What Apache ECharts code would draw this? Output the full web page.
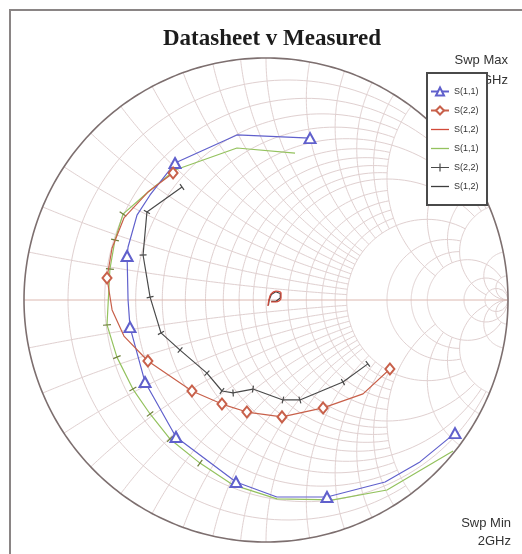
<!DOCTYPE html>
<html>
<head>
<meta charset="utf-8">
<script src="https://cdn.jsdelivr.net/npm/echarts@6.0.0/dist/echarts.min.js"></script>
<style>
  html, body { margin: 0; padding: 0; background: #fff; }
  #main { width: 522px; height: 554px; }
</style>
</head>
<body>
<div id="main"></div>
<script>
// reflection coefficients [re, im], sweep 2GHz .. max
const s11Datasheet = [
  [0.182, 0.669], [-0.120, 0.682], [-0.376, 0.566], [-0.479, 0.434], [-0.533, 0.351],
  [-0.570, 0.219], [-0.574, 0.182], [-0.570, 0.000], [-0.562, -0.112], [-0.500, -0.339],
  [-0.372, -0.566], [-0.124, -0.752], [0.045, -0.814], [0.252, -0.814], [0.492, -0.752],
  [0.636, -0.669], [0.781, -0.550]
];
const s11DsMarks = [0, 2, 6, 8, 9, 10, 11, 13, 16];

const s22Datasheet = [
  [-0.384, 0.525], [-0.488, 0.446], [-0.587, 0.339], [-0.636, 0.215], [-0.657, 0.091],
  [-0.636, -0.041], [-0.587, -0.149], [-0.488, -0.252], [-0.306, -0.376], [-0.182, -0.430],
  [-0.079, -0.463], [0.066, -0.483], [0.236, -0.446], [0.401, -0.388], [0.512, -0.285]
];
const s22DsMarks = [0, 4, 7, 8, 9, 10, 11, 12, 14];

const s12Datasheet = [
  [0.008, -0.025], [0.012, 0.000], [0.021, 0.025], [0.041, 0.037], [0.062, 0.029],
  [0.062, 0.008], [0.041, -0.008], [0.021, -0.008]
];

const s11Measured = [
  [0.120, 0.607], [-0.120, 0.628], [-0.376, 0.537], [-0.492, 0.442], [-0.591, 0.355],
  [-0.624, 0.248], [-0.645, 0.128], [-0.657, -0.103], [-0.616, -0.236], [-0.550, -0.368],
  [-0.479, -0.471], [-0.397, -0.574], [-0.273, -0.674], [-0.136, -0.764], [0.045, -0.822],
  [0.277, -0.826], [0.500, -0.785], [0.773, -0.624]
];
const s11MeasTicks = [4, 5, 6, 7, 8, 9, 10, 11, 12];

const s22Measured = [
  [-0.347, 0.467], [-0.492, 0.364], [-0.508, 0.186], [-0.479, 0.012], [-0.434, -0.136],
  [-0.355, -0.207], [-0.244, -0.302], [-0.182, -0.376], [-0.136, -0.384], [-0.054, -0.368],
  [0.070, -0.413], [0.140, -0.413], [0.318, -0.339], [0.421, -0.264]
];

const s12Measured = [
  [0.010, -0.022], [0.013, 0.000], [0.022, 0.023], [0.040, 0.034], [0.059, 0.027],
  [0.059, 0.008], [0.040, -0.006], [0.022, -0.006]
];

const seriesNames = ['S(1,1)', 'S(2,2)', 'S(1,2)', 'S(1,1) ', 'S(2,2) ', 'S(1,2) '];

// smith chart grid: [value, limit of the other coordinate]
const rCircles = [
  [0.1, 2], [0.2, 5], [0.3, 2], [0.4, 2], [0.5, 5], [0.6, 2], [0.7, 2], [0.8, 2], [0.9, 2],
  [1, 5], [1.2, 2], [1.4, 2], [1.6, 2], [1.8, 2], [2, 5], [3, 5], [4, 5], [5, 20],
  [10, Infinity], [20, Infinity]
];
const xArcs = [
  [0.1, 2], [0.2, 2], [0.3, 2], [0.4, 2], [0.5, 2], [0.6, 2], [0.7, 2], [0.8, 2], [0.9, 2],
  [1, 2], [1.2, 2], [1.4, 2], [1.6, 2], [1.8, 2], [2, 5], [3, 5], [4, 5], [5, 20],
  [10, Infinity], [20, Infinity]
];

function gamma(r, x) {
  const den = (r + 1) * (r + 1) + x * x;
  return [((r - 1) * (r + 1) + x * x) / den, (2 * x) / den];
}
function rCircle(r, xmax) {
  const pts = [], n = 160;
  const vmax = xmax === Infinity ? 0.999 : xmax / (1 + xmax);
  for (let i = 0; i <= n; i++) {
    const v = -vmax + (2 * vmax * i) / n;
    pts.push(gamma(r, v / (1 - Math.abs(v))));
  }
  return pts;
}
function xArc(x, rmax) {
  const pts = [], n = 120;
  const umax = rmax === Infinity ? 0.999 : rmax / (1 + rmax);
  for (let i = 0; i <= n; i++) {
    const u = (umax * i) / n;
    pts.push(gamma(u / (1 - u), x));
  }
  return pts;
}

const gridLines = [];
rCircles.forEach(([r, lim]) => gridLines.push(rCircle(r, lim)));
xArcs.forEach(([x, lim]) => { gridLines.push(xArc(x, lim)); gridLines.push(xArc(-x, lim)); });
const outer = [];
for (let i = 0; i <= 360; i++) outer.push([Math.cos(i * Math.PI / 180), Math.sin(i * Math.PI / 180)]);

function withMarks(data, marks) {
  return data.map((p, i) => marks.includes(i) ? { value: p } : { value: p, symbol: 'none' });
}
function tickAngle(data, i) {
  const a = data[Math.max(0, i - 1)], b = data[Math.min(data.length - 1, i + 1)];
  return Math.atan2(b[1] - a[1], b[0] - a[0]) * 180 / Math.PI;
}
function withTicks(data, marks) {
  return data.map((p, i) => (!marks || marks.includes(i))
    ? { value: p, symbolRotate: tickAngle(data, i) }
    : { value: p, symbol: 'none' });
}

const lineIcon = 'path://M0,0H18V1.3H0Z';
const tickIcon = 'path://M0,4.4H8.4V1H9.6V4.4H18V5.6H9.6V9H8.4V5.6H0Z';

const chart = echarts.init(document.getElementById('main'));
chart.setOption({
  animation: false,
  backgroundColor: '#fff',
  title: {
    text: 'Datasheet v Measured',
    left: 267, top: 23, textAlign: 'center',
    textStyle: { fontFamily: 'Liberation Serif', fontWeight: 'bold', fontSize: 23, color: '#1c1c1c' }
  },
  legend: {
    orient: 'vertical', left: 427, top: 73,
    data: [
      { name: seriesNames[0] },
      { name: seriesNames[1] },
      { name: seriesNames[2], icon: lineIcon },
      { name: seriesNames[3], icon: lineIcon, itemStyle: { color: '#94c25e' } },
      { name: seriesNames[4], icon: tickIcon },
      { name: seriesNames[5], icon: lineIcon }
    ],
    padding: [13, 6, 13, 3], itemGap: 8, itemWidth: 18, itemHeight: 10,
    backgroundColor: '#fff', borderColor: '#4a4a4a', borderWidth: 2,
    textStyle: { fontSize: 9, lineHeight: 11, color: '#333', fontFamily: 'Liberation Sans' },
    z: 10
  },
  graphic: [
    { type: 'rect', shape: { x: 10, y: 10, width: 560, height: 600 }, style: { fill: null, stroke: '#8a8585', lineWidth: 2 }, z: 0 },
    { type: 'text', x: 508, y: 60, style: { text: 'Swp Max', align: 'right', verticalAlign: 'middle', font: '13px "Liberation Sans"', fill: '#333' }, z: 1 },
    { type: 'text', x: 508, y: 80, style: { text: '3GHz', align: 'right', verticalAlign: 'middle', font: '13px "Liberation Sans"', fill: '#333' }, z: 1 },
    { type: 'text', x: 511, y: 523, style: { text: 'Swp Min', align: 'right', verticalAlign: 'middle', font: '13px "Liberation Sans"', fill: '#333' }, z: 1 },
    { type: 'text', x: 511, y: 541, style: { text: '2GHz', align: 'right', verticalAlign: 'middle', font: '13px "Liberation Sans"', fill: '#333' }, z: 1 }
  ],
  grid: { left: 24, top: 58, width: 484, height: 484 },
  xAxis: { type: 'value', min: -1, max: 1, show: false },
  yAxis: { type: 'value', min: -1, max: 1, show: false },
  series: [
    {
      type: 'custom', name: 'grid', silent: true, z: 1,
      data: gridLines.map((_, i) => [i, 0]),
      renderItem: (params, api) => ({
        type: 'polyline',
        shape: { points: gridLines[api.value(0)].map(p => api.coord(p)) },
        style: { stroke: '#e0d0d0', lineWidth: 1, fill: null }
      })
    },
    {
      type: 'custom', name: 'frame', silent: true, z: 2,
      data: [[0, 0]],
      renderItem: (params, api) => ({
        type: 'group',
        children: [
          { type: 'polyline', shape: { points: [api.coord([-1, 0]), api.coord([1, 0])] }, style: { stroke: '#dcb8b0', lineWidth: 1, fill: null } },
          { type: 'polyline', shape: { points: outer.map(p => api.coord(p)) }, style: { stroke: '#7d6f6f', lineWidth: 1.6, fill: null } }
        ]
      })
    },
    {
      name: seriesNames[0], type: 'line', z: 5, color: '#6060cc',
      data: withMarks(s11Datasheet, s11DsMarks),
      symbol: 'emptyTriangle', symbolSize: [11, 10],
      lineStyle: { width: 1.2 }, itemStyle: { borderWidth: 1.2 }
    },
    {
      name: seriesNames[1], type: 'line', z: 5, color: '#c8604a',
      data: withMarks(s22Datasheet, s22DsMarks),
      symbol: 'emptyDiamond', symbolSize: [9, 11],
      lineStyle: { width: 1.2 }, itemStyle: { borderWidth: 1.2 }
    },
    {
      name: seriesNames[5], type: 'line', z: 4, color: '#3e3e3e',
      data: s12Measured, showSymbol: false, symbol: 'none',
      lineStyle: { width: 1.2 }
    },
    {
      name: seriesNames[2], type: 'line', z: 5, color: '#d24a3a',
      data: s12Datasheet, showSymbol: false, symbol: 'none', smooth: 0.4,
      lineStyle: { width: 1.3 }
    },
    {
      name: seriesNames[3], type: 'line', z: 4, color: '#94c25e',
      data: withTicks(s11Measured, s11MeasTicks),
      symbol: 'rect', symbolSize: [1.2, 8],
      lineStyle: { width: 1.2, color: '#94c25e' }, itemStyle: { color: '#6f7f3c' }
    },
    {
      name: seriesNames[4], type: 'line', z: 4, color: '#4a4a4a',
      data: withTicks(s22Measured),
      symbol: 'rect', symbolSize: [1.2, 7],
      lineStyle: { width: 1.2 }, itemStyle: { color: '#4a4a4a' }
    }
  ]
});
</script>
</body>
</html>
